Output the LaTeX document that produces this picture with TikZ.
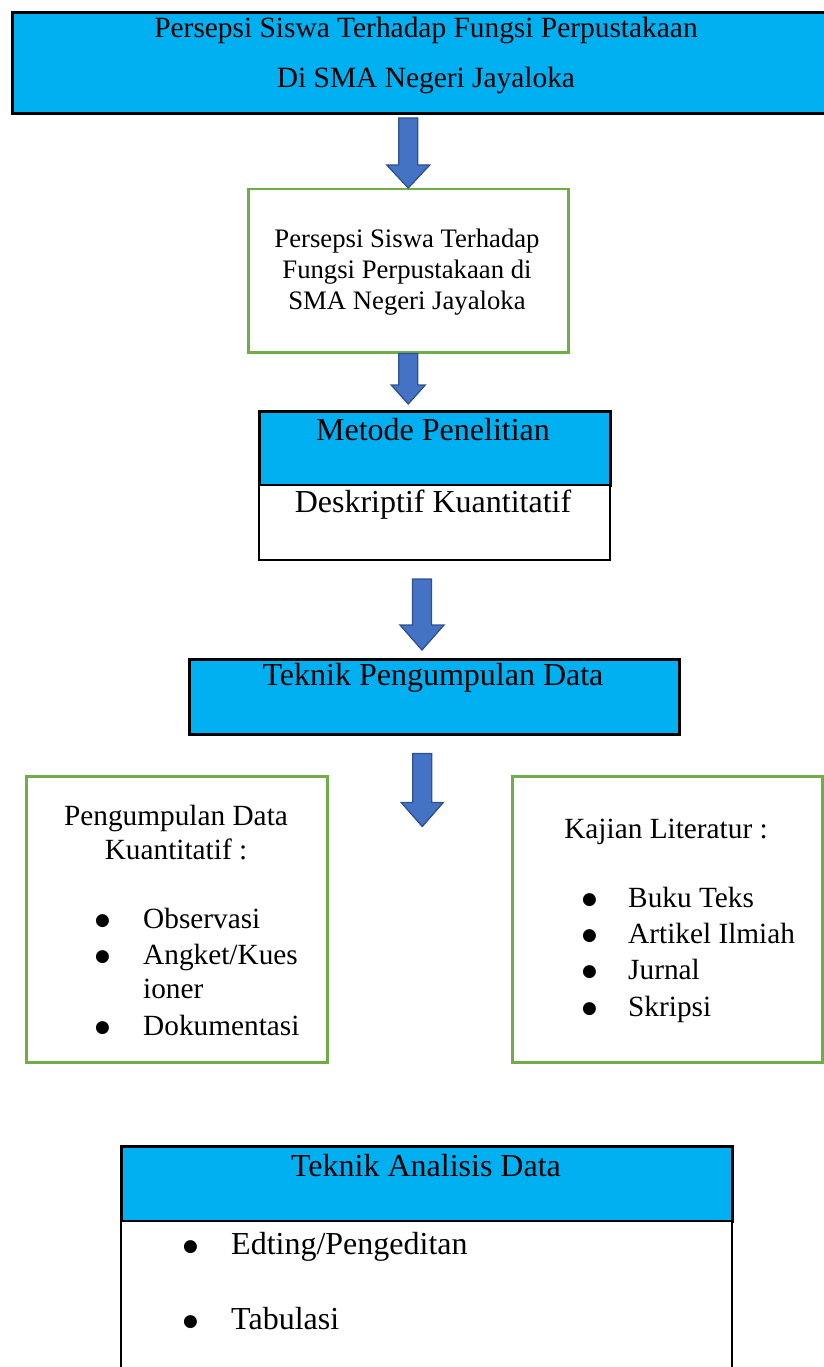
\documentclass[tikz,border=0pt]{standalone}
\usepackage{fontspec}
\setmainfont{Liberation Serif}
\newfontfamily\bulfont{DejaVu Sans}
\usetikzlibrary{calc,positioning}

\definecolor{headcyan}{HTML}{00B0F0}
\definecolor{boxgreen}{HTML}{70AD47}
\definecolor{arrowblue}{HTML}{4472C4}
\definecolor{arrowedge}{HTML}{2F528F}

\tikzset{
  headbox/.style={draw=black, fill=headcyan, line width=2.5pt, anchor=north west, inner sep=0pt},
  bodybox/.style={draw=black, fill=white, line width=2pt, anchor=north west, inner sep=0pt},
  greenbox/.style={draw=boxgreen, line width=2.5pt, anchor=north west, inner sep=0pt},
  bigtext/.style={font=\fontsize{32}{38}\selectfont, inner sep=0pt},
  sidetext/.style={font=\fontsize{29.3}{34}\selectfont, inner sep=0pt, align=center},
  listtext/.style={font=\fontsize{29.3}{34}\selectfont, inner sep=0pt, align=left, anchor=west},
  blockarrow/.style 2 args={draw=arrowedge, fill=arrowblue, line width=1.3pt, line join=miter,
    to path={let \p1=(\tikztostart), \p2=(\tikztotarget) in
      (\x1-9.5pt,\y1) -- (\x1-9.5pt,\y2+#2) -- (\x1-#1,\y2+#2) -- (\x1,\y2)
      -- (\x1+#1,\y2+#2) -- (\x1+9.5pt,\y2+#2) -- (\x1+9.5pt,\y1) -- cycle}},
}
\newcommand{\bul}[1]{\makebox[#1][l]{\raisebox{3pt}{\bulfont\fontsize{17}{17}\selectfont ●}}}

\begin{document}
\begin{tikzpicture}[x=1pt,y=-1pt]
\useasboundingbox (0,0) rectangle (823,1367);

\node[headbox, line width=3pt, minimum width=830pt, minimum height=101pt] (top) at (11,11) {};
\node[font=\fontsize{29.4}{50}\selectfont, align=center, inner sep=0pt] (toptext) at (426,55)
  {Persepsi Siswa Terhadap Fungsi Perpustakaan\\Di SMA Negeri Jayaloka};

\node[greenbox, minimum width=320pt, minimum height=163pt] (persepsi) at (247,188) {};
\node[font=\fontsize{26.7}{31}\selectfont, align=center, inner sep=0pt] (persepsitext) at (407,272)
  {Persepsi Siswa Terhadap\\Fungsi Perpustakaan di\\SMA Negeri Jayaloka};

\node[headbox, minimum width=351pt, minimum height=74pt] (metode) at (258,410) {};
\node[bodybox, minimum width=351pt, minimum height=75pt] (metodebody) at (258,484) {};
\node[bigtext] (metodetext) at (433,430) {Metode Penelitian};
\node[bigtext] (deskriptif) at (433,505) {Deskriptif Kuantitatif};

\node[headbox, minimum width=490pt, minimum height=75pt] (teknik) at (188,658) {};
\node[bigtext] (teknikteks) at (433,678) {Teknik Pengumpulan Data};

\node[greenbox, minimum width=301pt, minimum height=286pt] (kuanti) at (25,775) {};
\node[sidetext] (kuantititle) at (176,833) {Pengumpulan Data\\Kuantitatif :};
\node[listtext] (kuantilist) at (95,971.5)
  {\bul{48pt}Observasi\\[2.5pt]
   \bul{48pt}Angket/Kues\\
   \hspace*{48pt}ioner\\[2.5pt]
   \bul{48pt}Dokumentasi};

\node[greenbox, minimum width=310pt, minimum height=286pt] (kajian) at (511,775) {};
\node[sidetext] (kajiantitle) at (666,832) {Kajian Literatur :};
\node[listtext] (kajianlist) at (582,954.5)
  {\bul{46pt}Buku Teks\\[2.3pt]
   \bul{46pt}Artikel Ilmiah\\[2.3pt]
   \bul{46pt}Jurnal\\[2.3pt]
   \bul{46pt}Skripsi};

\node[headbox, minimum width=611pt, minimum height=75pt] (analisis) at (120,1145) {};
\node[bodybox, minimum width=611pt, minimum height=220pt] (analisisbody) at (120,1220) {};
\node[bigtext] (analisistext) at (426,1166) {Teknik Analisis Data};
\node[bigtext, align=left, anchor=west, font=\fontsize{32}{75}\selectfont] (analisislist) at (183,1281.5)
  {\bul{48pt}Edting/Pengeditan\\
   \bul{48pt}Tabulasi};

\coordinate (a1s) at ($(persepsi.north |- top.south)+(0,3)$);
\coordinate (a1e) at (persepsi.north);
\coordinate (a2s) at (persepsi.south);
\coordinate (a2e) at ($(persepsi.south |- metode.north)+(0,-6)$);
\coordinate (a3s) at ($(metodebody.south)+(-12.5,18)$);
\coordinate (a3e) at ($(teknik.north)+(-12,-8)$);
\coordinate (a4s) at ($(teknik.south)+(-12,18)$);
\coordinate (a4e) at ($(a4s)+(0,73)$);

\draw[blockarrow={21.5pt}{23pt}] (a1s) to (a1e);
\draw[blockarrow={17pt}{19pt}] (a2s) to (a2e);
\draw[blockarrow={22pt}{25pt}] (a3s) to (a3e);
\draw[blockarrow={21pt}{24pt}] (a4s) to (a4e);
\end{tikzpicture}
\end{document}
